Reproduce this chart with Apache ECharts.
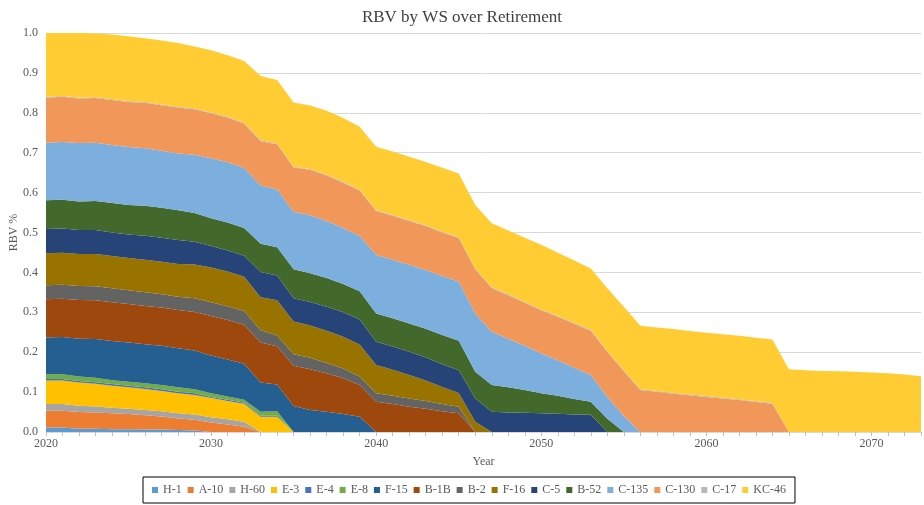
<!DOCTYPE html>
<html>
<head>
<meta charset="utf-8">
<title>RBV by WS over Retirement</title>
<script src="https://cdn.jsdelivr.net/npm/echarts@6/dist/echarts.min.js"></script>
<style>
  html, body { margin: 0; padding: 0; background: #fff; }
  #chart { width: 924px; height: 505px; }
</style>
</head>
<body>
<div id="chart"></div>
<script>
"use strict";

/* ── 数据（年份 2020–2073，退役后为 0） ── */
const FIRST_YEAR = 2020;
const LAST_YEAR  = 2073;
const years = [];
for (let y = FIRST_YEAR; y <= LAST_YEAR; y++) years.push(String(y));

const H1   = [.011,.011,.008,.008,.007,.007,.006,.006,.005,.004];
const A10  = [.042,.042,.042,.041,.040,.038,.036,.033,.029,.027,.024,.019,.013];
const H60  = [.017,.017,.016,.015,.014,.013,.013,.013,.013,.013,.013,.013,.013];
const E3   = [.059,.059,.058,.057,.055,.054,.053,.051,.050,.049,.048,.046,.045,.038,.038];
const E4   = [.004,.004,.004,.004,.004,.004,.004,.004,.004,.004,.003,.003,.003,.003,.003];
const E8   = [.012,.012,.011,.011,.010,.010,.010,.011,.011,.010,.009,.008,.007,.010,.011];
const F15  = [.092,.093,.095,.097,.098,.098,.098,.098,.098,.097,.095,.093,.090,.073,.067,.065,.055,.051,.045,.038];
const B1B  = [.096,.096,.097,.097,.097,.097,.096,.096,.096,.097,.099,.099,.098,.100,.096,.101,.102,.096,.090,.080,
              .076,.070,.063,.058,.052,.047];
const B2   = [.035,.035,.035,.035,.035,.034,.034,.033,.033,.034,.034,.034,.034,.031,.027,.029,.029,.026,.024,.021,
              .021,.021,.021,.020,.018,.016];
const F16  = [.080,.080,.080,.081,.081,.081,.082,.082,.082,.085,.087,.087,.086,.083,.088,.082,.081,.081,.080,.080,
              .071,.065,.059,.051,.043,.035,.026];
const C5   = [.061,.061,.060,.060,.059,.059,.060,.060,.060,.057,.054,.053,.053,.063,.062,.058,.059,.060,.061,.063,
              .058,.058,.058,.058,.057,.057,.058,.051,.049,.048,.047,.046,.044,.043];
const B52  = [.072,.072,.072,.073,.074,.074,.075,.075,.075,.072,.070,.070,.069,.071,.071,.073,.072,.072,.071,.071,
              .071,.071,.071,.072,.073,.074,.067,.067,.063,.057,.050,.045,.039,.033,.033];
const C135 = [.144,.145,.146,.146,.145,.145,.144,.143,.142,.146,.150,.151,.151,.146,.145,.144,.145,.143,.140,.138,
              .147,.147,.147,.147,.148,.148,.146,.133,.122,.111,.100,.089,.078,.067,.055,.040];
const C130 = [.113,.113,.112,.112,.113,.113,.114,.114,.115,.114,.113,.112,.111,.111,.113,.111,.114,.114,.114,.114,
              .110,.110,.110,.110,.109,.109,.111,.110,.109,.108,.108,.109,.110,.111,.113,.112,.105,.101,.096,.092,
              .088,.084,.080,.075,.071];
const C17  = [.002,.002,.002,.002,.002,.002,.002,.002,.002,.002,.002,.002,.002,.002,.002,.002,.002,.002,.002,.002,
              .002,.002,.002,.002,.002,.002,.002,.002,.002,.002,.002,.002,.002,.002,.002,.002,.002,.002,.002,.002,
              .002,.002,.002,.002,.002];
const KC46 = [.160,.158,.162,.160,.162,.163,.160,.160,.160,.155,.156,.154,.155,.161,.159,.161,.159,.160,.160,.158,
              .159,.159,.159,.159,.160,.160,.159,.160,.160,.161,.162,.158,.157,.154,.157,.160,.159,.159,.160,.159,
              .159,.159,.159,.159,.159,.157,.155,.153,.152,.151,.149,.147,.144,.140];

const names  = ["H-1","A-10","H-60","E-3","E-4","E-8","F-15","B-1B","B-2","F-16","C-5","B-52","C-135","C-130","C-17","KC-46"];
const values = [H1, A10, H60, E3, E4, E8, F15, B1B, B2, F16, C5, B52, C135, C130, C17, KC46];
const colors = ["#5B9BD5","#ED7D31","#A5A5A5","#FFC000","#4472C4","#70AD47","#255E91","#9E480E",
                "#636363","#997300","#264478","#43682B","#7CAFDD","#F1975A","#B7B7B7","#FFCD33"];

// 退役之后补 0
function pad(arr) {
  const out = arr.slice();
  while (out.length < years.length) out.push(0);
  return out;
}

const FONT = "'Liberation Serif', 'Times New Roman', serif";

const chart = echarts.init(document.getElementById("chart"), null, { renderer: "canvas" });

chart.setOption({
  animation: false,
  backgroundColor: "#fff",
  color: colors,
  title: {
    text: "RBV by WS over Retirement",
    left: "center", top: 4,
    textStyle: { fontFamily: FONT, fontSize: 17, fontWeight: "normal", color: "#404040" }
  },
  legend: {
    bottom: 2, left: 143,
    icon: "rect", itemWidth: 6, itemHeight: 6, itemGap: 6,
    borderColor: "#000", borderWidth: 1, padding: [7, 9],
    textStyle: { fontFamily: FONT, fontSize: 12, color: "#595959" },
    data: names
  },
  grid: { left: 46, right: 3, top: 33, bottom: 73, outerBoundsMode: "none", containLabel: false },
  xAxis: {
    type: "category", data: years, boundaryGap: false,
    name: "Year", nameLocation: "middle", nameGap: 24,
    nameTextStyle: { fontFamily: FONT, fontSize: 12, color: "#595959" },
    axisLine: { lineStyle: { color: "#D9D9D9" } },
    axisTick: { interval: 0, length: 4, lineStyle: { color: "#BFBFBF" } },
    axisLabel: { interval: 9, fontFamily: FONT, fontSize: 12, color: "#595959", margin: 6 }
  },
  yAxis: {
    type: "value", min: 0, max: 1, interval: 0.1,
    name: "RBV %", nameLocation: "middle", nameGap: 26, nameMoveOverlap: false,
    nameTextStyle: { fontFamily: FONT, fontSize: 12, color: "#595959" },
    axisLine: { show: false }, axisTick: { show: false },
    axisLabel: { fontFamily: FONT, fontSize: 12, color: "#595959", formatter: v => v.toFixed(1) },
    splitLine: { lineStyle: { color: "#D9D9D9" } }
  },
  series: names.map((n, i) => ({
    name: n, type: "line", stack: "total",
    data: pad(values[i]),
    symbol: "none", smooth: false,
    lineStyle: { width: 0 },
    areaStyle: { color: colors[i], opacity: 1 },
    itemStyle: { color: colors[i] },
    emphasis: { disabled: true }
  }))
});
</script>
</body>
</html>
